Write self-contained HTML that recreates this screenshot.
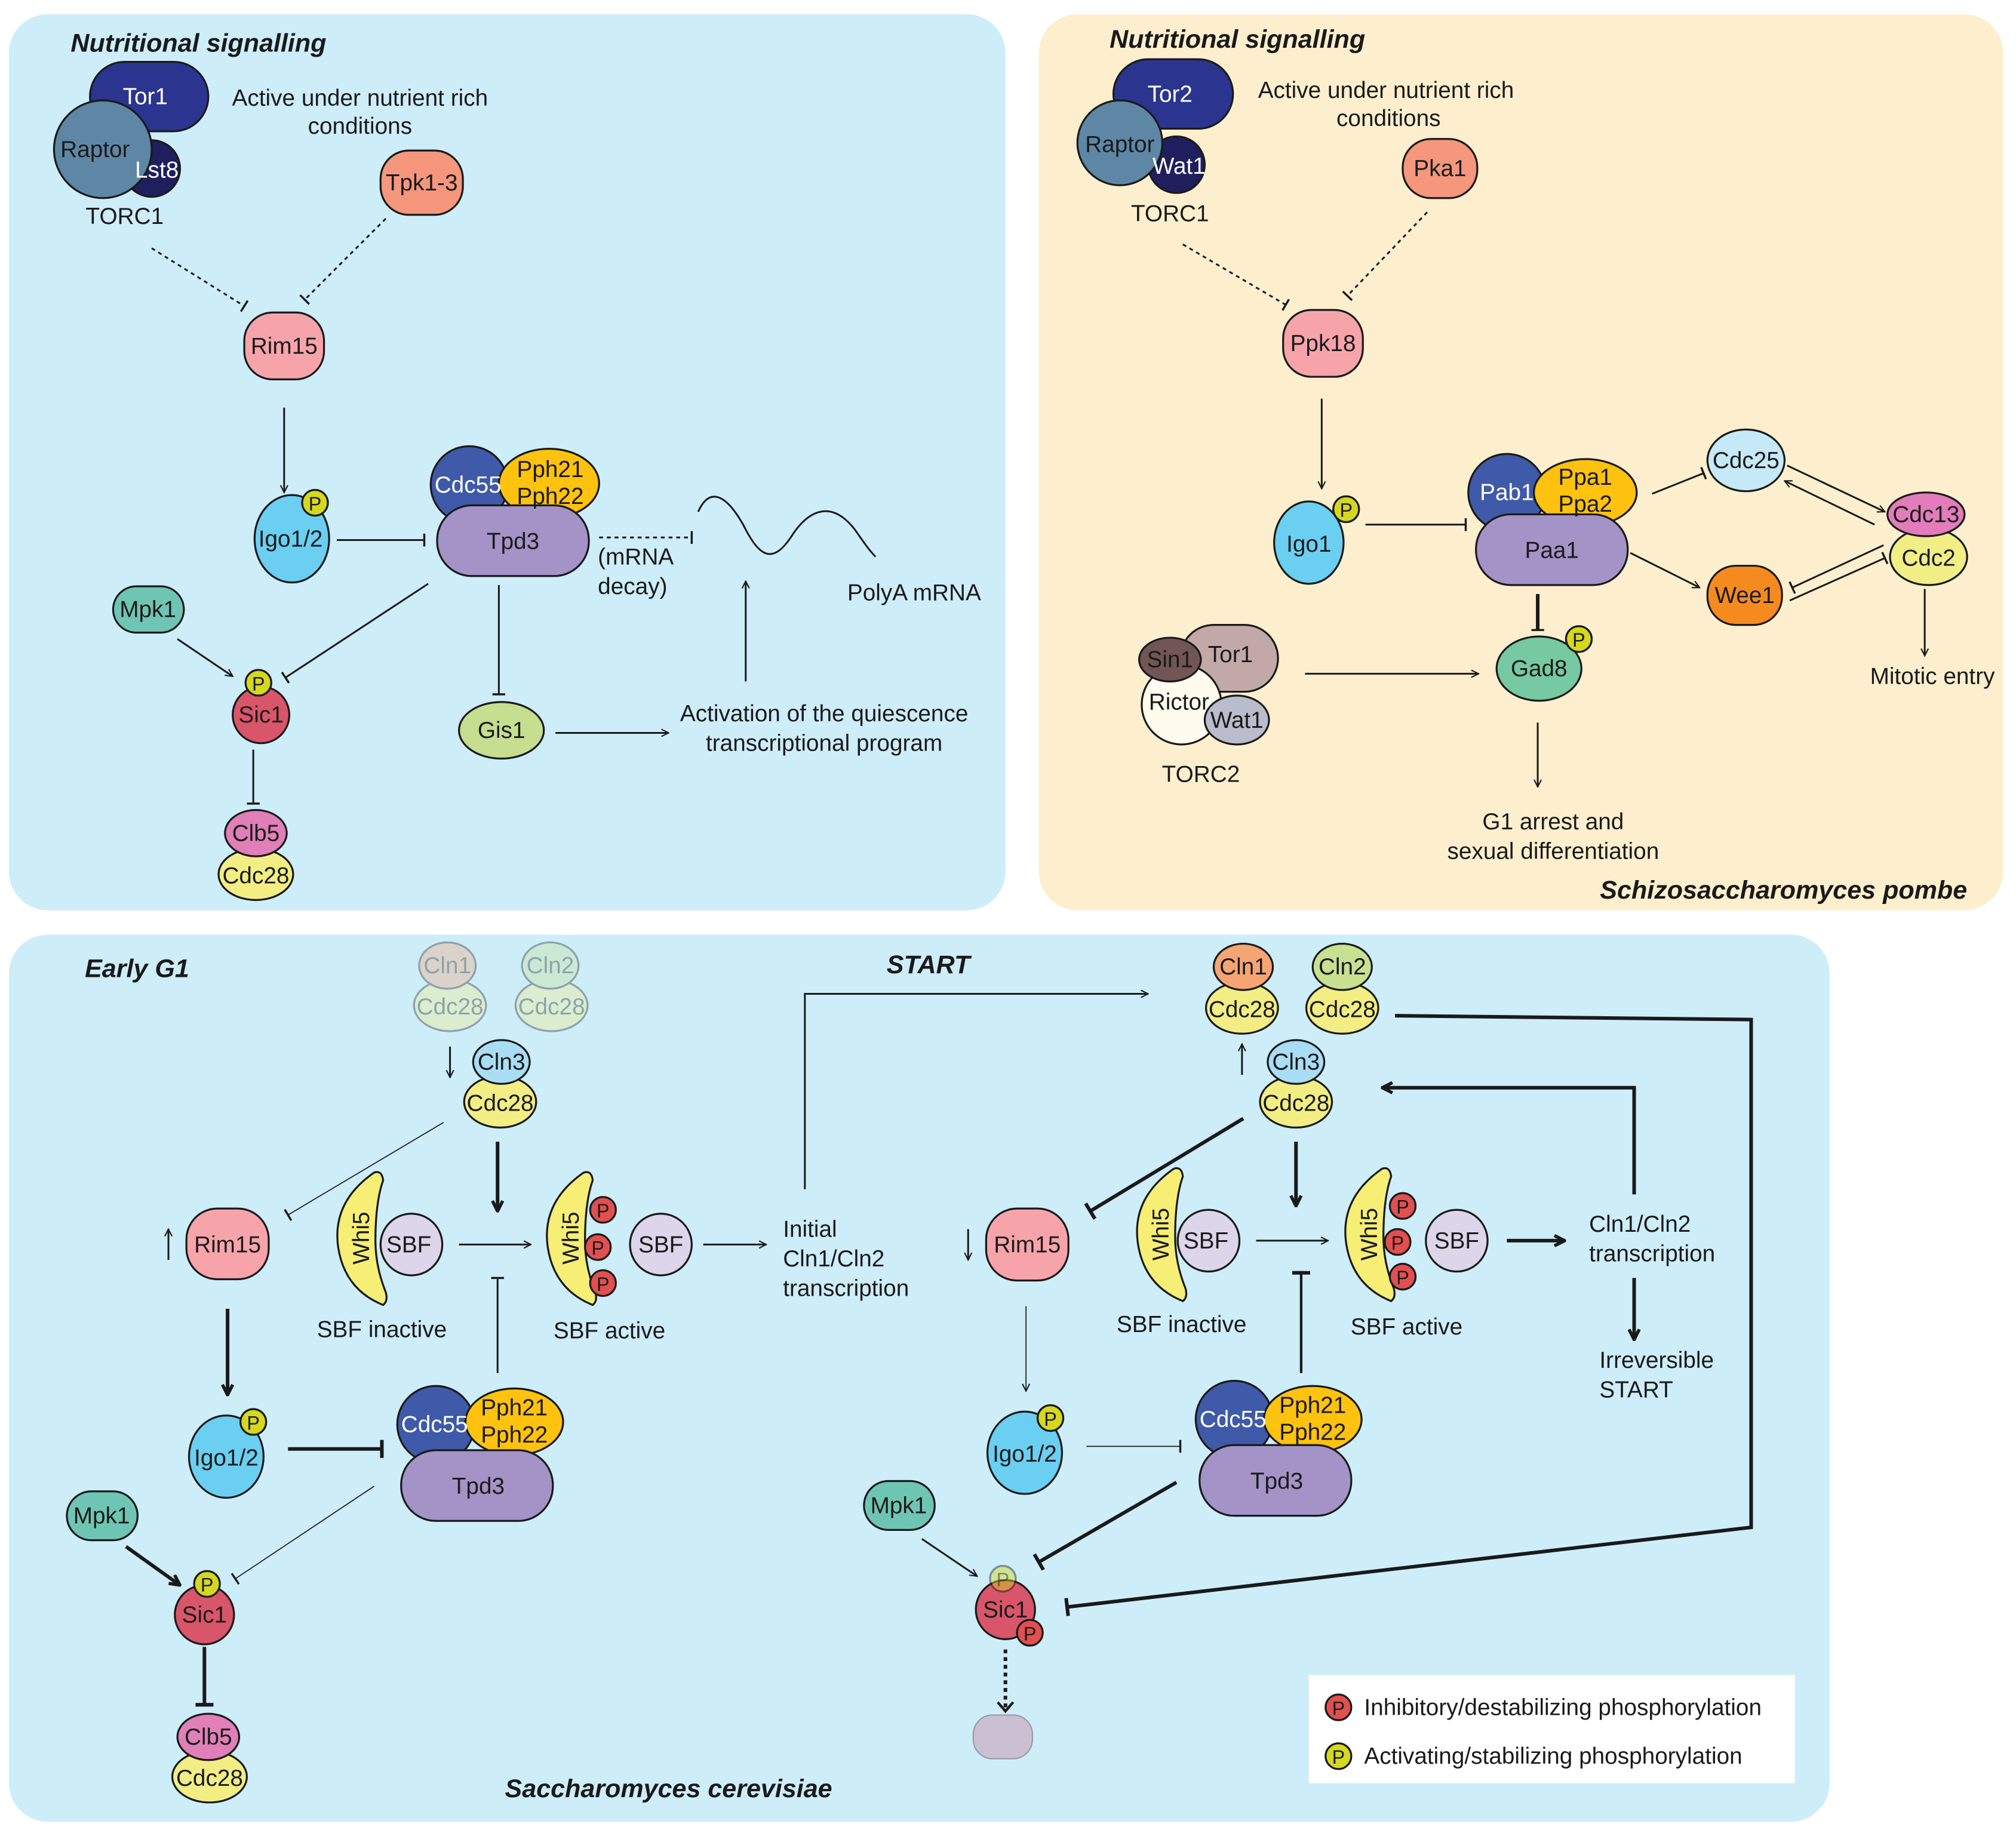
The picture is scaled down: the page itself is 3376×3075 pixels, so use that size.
<!DOCTYPE html>
<html><head><meta charset="utf-8"><style>
html,body{margin:0;padding:0;background:#fff}
svg{display:block}
text{font-family:"Liberation Sans",sans-serif;font-size:18px;fill:#1a1a1a}
.w{fill:#fff}
.t{font-weight:bold;font-style:italic;font-size:20px}
.s{stroke:#1a1a1a;stroke-width:1.5}
.ln{stroke:#1a1a1a;stroke-width:1.4;fill:none}
.tk{stroke:#1a1a1a;stroke-width:2.8;fill:none}
.th{stroke:#1a1a1a;stroke-width:0.8;fill:none}
.dt{stroke:#1a1a1a;stroke-width:1.4;fill:none;stroke-dasharray:3 3}
</style></head><body>
<svg width="3376" height="3075" viewBox="0 0 1568 1428" xmlns="http://www.w3.org/2000/svg">
<defs>
<marker id="a" viewBox="0 0 10 10" refX="9" refY="5" markerWidth="7" markerHeight="7" orient="auto" markerUnits="userSpaceOnUse"><path d="M1 1L9 5L1 9" fill="none" stroke="#1a1a1a" stroke-width="1.4"/></marker>
<marker id="ak" viewBox="0 0 10 10" refX="9" refY="5" markerWidth="10" markerHeight="10" orient="auto" markerUnits="userSpaceOnUse"><path d="M1 1L9 5L1 9" fill="none" stroke="#1a1a1a" stroke-width="2.5"/></marker>
<marker id="b" viewBox="0 0 10 10" refX="5" refY="5" markerWidth="10" markerHeight="10" orient="auto" markerUnits="userSpaceOnUse"><path d="M5 0L5 10" stroke="#1a1a1a" stroke-width="1.6"/></marker>
<marker id="bk" viewBox="0 0 10 10" refX="5" refY="5" markerWidth="14" markerHeight="14" orient="auto" markerUnits="userSpaceOnUse"><path d="M5 0L5 10" stroke="#1a1a1a" stroke-width="2"/></marker>
</defs>
<rect x="7" y="11" width="775" height="697" rx="30" fill="#cdedf9"/>
<rect x="808" y="11" width="750" height="697" rx="30" fill="#fdefcd"/>
<rect x="7" y="727" width="1416" height="690" rx="30" fill="#cdedf9"/>

<!-- TOP LEFT -->
<text x="55" y="40" class="t">Nutritional signalling</text>
<rect x="70" y="48" width="92" height="54" rx="27" fill="#2b3590" class="s"/>
<text x="113" y="81" class="w" text-anchor="middle">Tor1</text>
<circle cx="118" cy="131" r="22" fill="#1f1f5e" class="s"/>
<circle cx="80" cy="116" r="38" fill="#5e87a6" class="s"/>
<text x="122" y="138" class="w" text-anchor="middle">Lst8</text>
<text x="74" y="122" text-anchor="middle">Raptor</text>
<text x="97" y="174" text-anchor="middle">TORC1</text>
<text x="280" y="82" text-anchor="middle">Active under nutrient rich</text>
<text x="280" y="104" text-anchor="middle">conditions</text>
<rect x="296" y="117" width="64" height="50" rx="22" fill="#f4977c" class="s"/>
<text x="328" y="148" text-anchor="middle">Tpk1-3</text>
<line x1="118" y1="193" x2="190" y2="238" class="dt" marker-end="url(#b)"/>
<line x1="300" y1="170" x2="237" y2="233" class="dt" marker-end="url(#b)"/>
<rect x="190" y="243" width="62" height="52" rx="22" fill="#f6a4aa" class="s"/>
<text x="221" y="275" text-anchor="middle">Rim15</text>
<line x1="221" y1="317" x2="221" y2="383" class="ln" marker-end="url(#a)"/>
<ellipse cx="227" cy="419" rx="29" ry="34" fill="#6acff1" class="s"/>
<text x="226" y="425" text-anchor="middle">Igo1/2</text>
<circle cx="245" cy="391" r="10" fill="#d5d81e" class="s"/>
<text x="245" y="397" text-anchor="middle" style="font-size:15px">P</text>
<line x1="262" y1="420" x2="330" y2="420" class="ln" marker-end="url(#b)"/>
<circle cx="365" cy="377" r="30" fill="#3f5aa8" class="s"/>
<ellipse cx="427" cy="376" rx="39" ry="27" fill="#fec20f" class="s"/>
<rect x="340" y="393" width="118" height="55" rx="27" fill="#a493c6" class="s"/>
<text x="364" y="383" class="w" text-anchor="middle">Cdc55</text>
<text x="428" y="371" text-anchor="middle">Pph21</text>
<text x="428" y="392" text-anchor="middle">Pph22</text>
<text x="399" y="427" text-anchor="middle">Tpd3</text>
<line x1="466" y1="418" x2="538" y2="418" class="dt" marker-end="url(#b)"/>
<text x="465" y="439">(mRNA</text>
<text x="465" y="462">decay)</text>
<path d="M543 398 C552 378,565 385,578 408 C590 432,600 440,615 418 C630 394,648 390,665 412 C672 422,676 428,681 433" class="ln"/>
<text x="711" y="467" text-anchor="middle">PolyA mRNA</text>
<rect x="88" y="456" width="55" height="36" rx="18" fill="#6fc5b4" class="s"/>
<text x="115" y="480" text-anchor="middle">Mpk1</text>
<line x1="138" y1="497" x2="181" y2="526" class="ln" marker-end="url(#a)"/>
<line x1="333" y1="454" x2="222" y2="527" class="ln" marker-end="url(#b)"/>
<circle cx="203" cy="556" r="22" fill="#d9556a" class="s"/>
<text x="203" y="562" text-anchor="middle">Sic1</text>
<circle cx="201" cy="531" r="10" fill="#d5d81e" class="s"/>
<text x="201" y="537" text-anchor="middle" style="font-size:15px">P</text>
<line x1="197" y1="583" x2="197" y2="625" class="ln" marker-end="url(#b)"/>
<ellipse cx="199" cy="680" rx="29" ry="20" fill="#f3ee84" class="s"/>
<ellipse cx="199" cy="648" rx="24" ry="18" fill="#e07fb8" class="s"/>
<text x="199" y="654" text-anchor="middle">Clb5</text>
<text x="199" y="687" text-anchor="middle">Cdc28</text>
<line x1="388" y1="455" x2="388" y2="540" class="ln" marker-end="url(#b)"/>
<ellipse cx="390" cy="568" rx="33" ry="22" fill="#c6de8f" class="s"/>
<text x="390" y="574" text-anchor="middle">Gis1</text>
<line x1="432" y1="570" x2="520" y2="570" class="ln" marker-end="url(#a)"/>
<text x="641" y="561" text-anchor="middle">Activation of the quiescence</text>
<text x="641" y="584" text-anchor="middle">transcriptional program</text>
<line x1="580" y1="530" x2="580" y2="452" class="ln" marker-end="url(#a)"/>

<!-- TOP RIGHT -->
<text x="863" y="37" class="t">Nutritional signalling</text>
<rect x="866" y="46" width="93" height="54" rx="27" fill="#2b3590" class="s"/>
<text x="910" y="79" class="w" text-anchor="middle">Tor2</text>
<circle cx="915" cy="128" r="22" fill="#1f1f5e" class="s"/>
<circle cx="871" cy="111" r="33" fill="#5e87a6" class="s"/>
<text x="917" y="135" class="w" text-anchor="middle">Wat1</text>
<text x="871" y="118" text-anchor="middle">Raptor</text>
<text x="910" y="172" text-anchor="middle">TORC1</text>
<text x="1078" y="76" text-anchor="middle">Active under nutrient rich</text>
<text x="1080" y="98" text-anchor="middle">conditions</text>
<rect x="1091" y="108" width="58" height="46" rx="22" fill="#f4977c" class="s"/>
<text x="1120" y="137" text-anchor="middle">Pka1</text>
<line x1="920" y1="190" x2="1000" y2="237" class="dt" marker-end="url(#b)"/>
<line x1="1110" y1="165" x2="1048" y2="230" class="dt" marker-end="url(#b)"/>
<rect x="998" y="241" width="62" height="52" rx="22" fill="#f6a4aa" class="s"/>
<text x="1029" y="273" text-anchor="middle">Ppk18</text>
<line x1="1028" y1="310" x2="1028" y2="380" class="ln" marker-end="url(#a)"/>
<ellipse cx="1018" cy="422" rx="27" ry="32" fill="#6acff1" class="s"/>
<text x="1018" y="429" text-anchor="middle">Igo1</text>
<circle cx="1047" cy="396" r="10" fill="#d5d81e" class="s"/>
<text x="1047" y="402" text-anchor="middle" style="font-size:15px">P</text>
<line x1="1062" y1="408" x2="1140" y2="408" class="ln" marker-end="url(#b)"/>
<circle cx="1172" cy="383" r="30" fill="#3f5aa8" class="s"/>
<ellipse cx="1233" cy="383" rx="40" ry="26" fill="#fec20f" class="s"/>
<rect x="1148" y="400" width="118" height="55" rx="27" fill="#a493c6" class="s"/>
<text x="1172" y="389" class="w" text-anchor="middle">Pab1</text>
<text x="1233" y="377" text-anchor="middle">Ppa1</text>
<text x="1233" y="398" text-anchor="middle">Ppa2</text>
<text x="1207" y="434" text-anchor="middle">Paa1</text>
<line x1="1285" y1="384" x2="1325" y2="368" class="ln" marker-end="url(#b)"/>
<ellipse cx="1358" cy="358" rx="30" ry="24" fill="#c5e9f7" class="s"/>
<text x="1358" y="364" text-anchor="middle">Cdc25</text>
<line x1="1268" y1="430" x2="1322" y2="457" class="ln" marker-end="url(#a)"/>
<rect x="1328" y="440" width="58" height="46" rx="22" fill="#f58b1f" class="s"/>
<text x="1357" y="469" text-anchor="middle">Wee1</text>
<line x1="1390" y1="362" x2="1466" y2="398" class="ln" marker-end="url(#a)"/>
<line x1="1458" y1="408" x2="1388" y2="374" class="ln" marker-end="url(#a)"/>
<line x1="1465" y1="424" x2="1394" y2="457" class="ln" marker-end="url(#b)"/>
<line x1="1392" y1="467" x2="1466" y2="434" class="ln" marker-end="url(#b)"/>
<ellipse cx="1500" cy="433" rx="30" ry="22" fill="#f2ee86" class="s"/>
<ellipse cx="1498" cy="400" rx="30" ry="17" fill="#e27cbb" class="s"/>
<text x="1498" y="406" text-anchor="middle">Cdc13</text>
<text x="1500" y="440" text-anchor="middle">Cdc2</text>
<line x1="1497" y1="458" x2="1497" y2="510" class="ln" marker-end="url(#a)"/>
<text x="1503" y="532" text-anchor="middle">Mitotic entry</text>
<line x1="1196" y1="462" x2="1196" y2="490" class="tk" marker-end="url(#b)"/>
<ellipse cx="1197" cy="520" rx="33" ry="25" fill="#76c9a0" class="s"/>
<text x="1197" y="526" text-anchor="middle">Gad8</text>
<circle cx="1228" cy="497" r="10" fill="#d5d81e" class="s"/>
<text x="1228" y="503" text-anchor="middle" style="font-size:15px">P</text>
<rect x="918" y="486" width="76" height="52" rx="26" fill="#c2a9a8" class="s"/>
<text x="957" y="515" text-anchor="middle">Tor1</text>
<circle cx="919" cy="548" r="31" fill="#fffbee" class="s"/>
<ellipse cx="962" cy="560" rx="25" ry="19" fill="#b8bccb" class="s"/>
<ellipse cx="910" cy="513" rx="24" ry="17" fill="#725656" class="s"/>
<text x="910" y="519" text-anchor="middle">Sin1</text>
<text x="917" y="552" text-anchor="middle">Rictor</text>
<text x="962" y="566" text-anchor="middle">Wat1</text>
<text x="934" y="608" text-anchor="middle">TORC2</text>
<line x1="1015" y1="524" x2="1150" y2="524" class="ln" marker-end="url(#a)"/>
<line x1="1196" y1="562" x2="1196" y2="612" class="ln" marker-end="url(#a)"/>
<text x="1208" y="645" text-anchor="middle">G1 arrest and</text>
<text x="1208" y="668" text-anchor="middle">sexual differentiation</text>
<text x="1530" y="699" class="t" text-anchor="end">Schizosaccharomyces pombe</text>

<!-- BOTTOM LEFT -->
<text x="66" y="760" class="t">Early G1</text>
<text x="722" y="757" class="t" text-anchor="middle">START</text>
<g opacity="0.35">
<ellipse cx="350" cy="782" rx="28" ry="20" fill="#f3ee84" class="s"/>
<ellipse cx="348" cy="751" rx="22" ry="18" fill="#f5a574" class="s"/>
<text x="348" y="757" text-anchor="middle">Cln1</text>
<text x="350" y="789" text-anchor="middle">Cdc28</text>
<ellipse cx="429" cy="782" rx="28" ry="20" fill="#f3ee84" class="s"/>
<ellipse cx="428" cy="751" rx="22" ry="18" fill="#c8e191" class="s"/>
<text x="428" y="757" text-anchor="middle">Cln2</text>
<text x="429" y="789" text-anchor="middle">Cdc28</text>
</g>
<line x1="350" y1="814" x2="350" y2="838" class="ln" marker-end="url(#a)"/>
<ellipse cx="389" cy="857" rx="28" ry="20" fill="#f3ee84" class="s"/>
<ellipse cx="390" cy="826" rx="22" ry="17" fill="#a9ddf3" class="s"/>
<text x="390" y="832" text-anchor="middle">Cln3</text>
<text x="389" y="864" text-anchor="middle">Cdc28</text>
<line x1="345" y1="873" x2="224" y2="945" class="th" marker-end="url(#b)"/>
<line x1="387" y1="888" x2="387" y2="942" class="tk" marker-end="url(#ak)"/>
<line x1="131" y1="980" x2="131" y2="956" class="ln" marker-end="url(#a)"/>
<rect x="145" y="940" width="64" height="55" rx="24" fill="#f6a4aa" class="s"/>
<text x="177" y="974" text-anchor="middle">Rim15</text>
<circle cx="320" cy="968" r="24" fill="#ddd5ea" class="s"/>
<path d="M291 912 Q258 935 263 970 Q268 1003 298 1015 Q302 1012 300 1005 Q292 985 292 965 Q292 935 298 918 Q297 910 291 912Z" fill="#f6ee75" class="s"/>
<text transform="translate(287 963) rotate(-90)" text-anchor="middle">Whi5</text>
<text x="318" y="974" text-anchor="middle">SBF</text>
<text x="297" y="1040" text-anchor="middle">SBF inactive</text>
<line x1="357" y1="968" x2="413" y2="968" class="ln" marker-end="url(#a)"/>
<circle cx="514" cy="968" r="24" fill="#ddd5ea" class="s"/>
<text x="514" y="974" text-anchor="middle">SBF</text>
<path d="M454 912 Q421 935 426 970 Q431 1003 461 1015 Q465 1012 463 1005 Q455 985 455 965 Q455 935 461 918 Q460 910 454 912Z" fill="#f6ee75" class="s"/>
<text transform="translate(450 963) rotate(-90)" text-anchor="middle">Whi5</text>
<circle cx="469" cy="941" r="10" fill="#e24f4f" class="s"/><text x="469" y="947" text-anchor="middle" style="font-size:15px">P</text>
<circle cx="465" cy="970" r="10" fill="#e24f4f" class="s"/><text x="465" y="976" text-anchor="middle" style="font-size:15px">P</text>
<circle cx="469" cy="998" r="10" fill="#e24f4f" class="s"/><text x="469" y="1004" text-anchor="middle" style="font-size:15px">P</text>
<text x="474" y="1041" text-anchor="middle">SBF active</text>
<line x1="387" y1="1068" x2="387" y2="994" class="ln" marker-end="url(#b)"/>
<line x1="547" y1="968" x2="596" y2="968" class="ln" marker-end="url(#a)"/>
<text x="609" y="962">Initial</text>
<text x="609" y="985">Cln1/Cln2</text>
<text x="609" y="1008">transcription</text>
<polyline points="626,925 626,773 893,773" class="ln" marker-end="url(#a)"/>
<line x1="177" y1="1018" x2="177" y2="1085" class="tk" marker-end="url(#ak)"/>
<ellipse cx="176" cy="1133" rx="29" ry="32" fill="#6acff1" class="s"/>
<text x="176" y="1140" text-anchor="middle">Igo1/2</text>
<circle cx="197" cy="1106" r="10" fill="#d5d81e" class="s"/>
<text x="197" y="1112" text-anchor="middle" style="font-size:15px">P</text>
<line x1="224" y1="1127" x2="297" y2="1127" class="tk" marker-end="url(#bk)"/>
<circle cx="339" cy="1108" r="30" fill="#3f5aa8" class="s"/>
<ellipse cx="400" cy="1106" rx="38" ry="26" fill="#fec20f" class="s"/>
<rect x="312" y="1128" width="118" height="55" rx="27" fill="#a493c6" class="s"/>
<text x="338" y="1114" class="w" text-anchor="middle">Cdc55</text>
<text x="400" y="1101" text-anchor="middle">Pph21</text>
<text x="400" y="1122" text-anchor="middle">Pph22</text>
<text x="372" y="1162" text-anchor="middle">Tpd3</text>
<line x1="291" y1="1156" x2="183" y2="1228" class="th" marker-end="url(#b)"/>
<rect x="52" y="1160" width="55" height="38" rx="19" fill="#6fc5b4" class="s"/>
<text x="79" y="1185" text-anchor="middle">Mpk1</text>
<line x1="98" y1="1203" x2="140" y2="1233" class="tk" marker-end="url(#ak)"/>
<circle cx="159" cy="1256" r="23" fill="#d9556a" class="s"/>
<text x="159" y="1262" text-anchor="middle">Sic1</text>
<circle cx="161" cy="1232" r="10" fill="#d5d81e" class="s"/>
<text x="161" y="1238" text-anchor="middle" style="font-size:15px">P</text>
<line x1="159" y1="1281" x2="159" y2="1326" class="tk" marker-end="url(#bk)"/>
<ellipse cx="163" cy="1382" rx="29" ry="20" fill="#f3ee84" class="s"/>
<ellipse cx="162" cy="1351" rx="24" ry="18" fill="#e07fb8" class="s"/>
<text x="162" y="1357" text-anchor="middle">Clb5</text>
<text x="163" y="1389" text-anchor="middle">Cdc28</text>
<text x="520" y="1398" class="t" text-anchor="middle">Saccharomyces cerevisiae</text>

<!-- BOTTOM RIGHT -->
<ellipse cx="966" cy="784" rx="28" ry="20" fill="#f3ee84" class="s"/>
<ellipse cx="967" cy="752" rx="23" ry="18" fill="#f5a574" class="s"/>
<text x="967" y="758" text-anchor="middle">Cln1</text>
<text x="966" y="791" text-anchor="middle">Cdc28</text>
<ellipse cx="1044" cy="784" rx="28" ry="20" fill="#f3ee84" class="s"/>
<ellipse cx="1044" cy="752" rx="23" ry="18" fill="#c8e191" class="s"/>
<text x="1044" y="758" text-anchor="middle">Cln2</text>
<text x="1044" y="791" text-anchor="middle">Cdc28</text>
<line x1="966" y1="836" x2="966" y2="812" class="ln" marker-end="url(#a)"/>
<ellipse cx="1008" cy="857" rx="28" ry="20" fill="#f3ee84" class="s"/>
<ellipse cx="1008" cy="826" rx="22" ry="17" fill="#a9ddf3" class="s"/>
<text x="1008" y="832" text-anchor="middle">Cln3</text>
<text x="1008" y="864" text-anchor="middle">Cdc28</text>
<line x1="967" y1="870" x2="848" y2="942" class="tk" marker-end="url(#bk)"/>
<line x1="1008" y1="888" x2="1008" y2="938" class="tk" marker-end="url(#ak)"/>
<line x1="753" y1="956" x2="753" y2="980" class="ln" marker-end="url(#a)"/>
<rect x="767" y="940" width="64" height="56" rx="24" fill="#f6a4aa" class="s"/>
<text x="799" y="974" text-anchor="middle">Rim15</text>
<circle cx="940" cy="965" r="24" fill="#ddd5ea" class="s"/>
<path d="M913 909 Q880 932 885 967 Q890 1000 920 1012 Q924 1009 922 1002 Q914 982 914 962 Q914 932 920 915 Q919 907 913 909Z" fill="#f6ee75" class="s"/>
<text transform="translate(909 960) rotate(-90)" text-anchor="middle">Whi5</text>
<text x="938" y="971" text-anchor="middle">SBF</text>
<text x="919" y="1036" text-anchor="middle">SBF inactive</text>
<line x1="977" y1="965" x2="1033" y2="965" class="ln" marker-end="url(#a)"/>
<circle cx="1133" cy="965" r="24" fill="#ddd5ea" class="s"/>
<text x="1133" y="971" text-anchor="middle">SBF</text>
<path d="M1075 909 Q1042 932 1047 967 Q1052 1000 1082 1012 Q1086 1009 1084 1002 Q1076 982 1076 962 Q1076 932 1082 915 Q1081 907 1075 909Z" fill="#f6ee75" class="s"/>
<text transform="translate(1071 960) rotate(-90)" text-anchor="middle">Whi5</text>
<circle cx="1091" cy="938" r="10" fill="#e24f4f" class="s"/><text x="1091" y="944" text-anchor="middle" style="font-size:15px">P</text>
<circle cx="1087" cy="966" r="10" fill="#e24f4f" class="s"/><text x="1087" y="972" text-anchor="middle" style="font-size:15px">P</text>
<circle cx="1091" cy="993" r="10" fill="#e24f4f" class="s"/><text x="1091" y="999" text-anchor="middle" style="font-size:15px">P</text>
<text x="1094" y="1038" text-anchor="middle">SBF active</text>
<line x1="1012" y1="1068" x2="1012" y2="990" class="tk" style="stroke-width:2" marker-end="url(#bk)"/>
<line x1="1172" y1="965" x2="1217" y2="965" class="tk" marker-end="url(#ak)"/>
<text x="1236" y="958">Cln1/Cln2</text>
<text x="1236" y="981">transcription</text>
<polyline points="1271,929 1271,846 1075,846" class="tk" marker-end="url(#ak)"/>
<line x1="1271" y1="994" x2="1271" y2="1042" class="tk" marker-end="url(#ak)"/>
<text x="1244" y="1064">Irreversible</text>
<text x="1244" y="1087">START</text>
<polyline points="1085,790 1362,793 1362,1188 830,1250" class="tk" marker-end="url(#bk)"/>
<line x1="798" y1="1016" x2="798" y2="1082" class="th" marker-end="url(#a)"/>
<ellipse cx="797" cy="1130" rx="29" ry="32" fill="#6acff1" class="s"/>
<text x="797" y="1137" text-anchor="middle">Igo1/2</text>
<circle cx="817" cy="1103" r="10" fill="#d5d81e" class="s"/>
<text x="817" y="1109" text-anchor="middle" style="font-size:15px">P</text>
<line x1="845" y1="1125" x2="918" y2="1125" class="th" marker-end="url(#b)"/>
<circle cx="960" cy="1104" r="30" fill="#3f5aa8" class="s"/>
<ellipse cx="1021" cy="1104" rx="38" ry="26" fill="#fec20f" class="s"/>
<rect x="933" y="1124" width="118" height="55" rx="27" fill="#a493c6" class="s"/>
<text x="959" y="1110" class="w" text-anchor="middle">Cdc55</text>
<text x="1021" y="1099" text-anchor="middle">Pph21</text>
<text x="1021" y="1120" text-anchor="middle">Pph22</text>
<text x="993" y="1158" text-anchor="middle">Tpd3</text>
<line x1="915" y1="1153" x2="808" y2="1215" class="tk" marker-end="url(#bk)"/>
<rect x="672" y="1152" width="55" height="38" rx="19" fill="#6fc5b4" class="s"/>
<text x="699" y="1177" text-anchor="middle">Mpk1</text>
<line x1="717" y1="1197" x2="760" y2="1226" class="ln" marker-end="url(#a)"/>
<circle cx="782" cy="1252" r="23" fill="#d9556a" class="s"/>
<text x="782" y="1258" text-anchor="middle">Sic1</text>
<circle cx="780" cy="1228" r="10" fill="#d5d81e" class="s" opacity="0.45"/>
<text x="780" y="1234" text-anchor="middle" style="font-size:15px" opacity="0.45">P</text>
<circle cx="801" cy="1270" r="10" fill="#e24f4f" class="s"/>
<text x="801" y="1276" text-anchor="middle" style="font-size:15px">P</text>
<line x1="782" y1="1283" x2="782" y2="1330" class="tk" style="stroke-dasharray:3 3"/>
<path d="M776 1324 L782 1331 L788 1324" fill="none" stroke="#1a1a1a" stroke-width="2"/>
<rect x="757" y="1334" width="46" height="34" rx="15" fill="#cbbfd4" stroke="#9a9aa8" stroke-width="1"/>
<rect x="1018" y="1303" width="378" height="84" fill="#fff"/>
<circle cx="1041" cy="1328" r="10" fill="#e24f4f" class="s"/>
<text x="1041" y="1334" text-anchor="middle" style="font-size:15px">P</text>
<text x="1061" y="1334">Inhibitory/destabilizing phosphorylation</text>
<circle cx="1041" cy="1366" r="10" fill="#d5d81e" class="s"/>
<text x="1041" y="1372" text-anchor="middle" style="font-size:15px">P</text>
<text x="1061" y="1372">Activating/stabilizing phosphorylation</text>
</svg>
</body></html>
